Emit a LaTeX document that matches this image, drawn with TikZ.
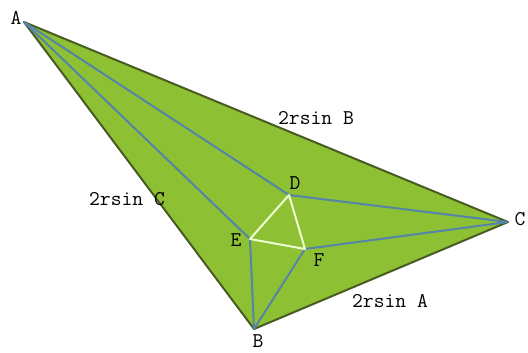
\documentclass[tikz,border=0pt]{standalone}
\usepackage{tikz}

\definecolor{leaf}{RGB}{142,192,52}
\definecolor{rim}{RGB}{72,92,34}
\definecolor{ray}{RGB}{84,132,168}
\definecolor{inner}{RGB}{236,255,208}

\tikzset{
	lbl/.style={font=\ttfamily\fontsize{21}{21}\selectfont, inner sep=0pt},
	trisector/.style={ray, line width=2pt},
	morley/.style={inner, line width=2pt}
}

\begin{document}
\begin{tikzpicture}[x=1pt, y=-1pt]
		
		\useasboundingbox (0,0) rectangle (528,353);
		
		% Vertices
		\coordinate (A) at (24,22);
		\coordinate (B) at (254,329);
		\coordinate (C) at (508,222);
		\coordinate (D) at (289,195);
		\coordinate (E) at (250,239);
		\coordinate (F) at (305,249);
		
		% Triangle
		\draw[rim, fill=leaf, line width=2pt, line join=round] (A) -- (B) -- (C) -- cycle;
		
		% Trisectors
		\draw[trisector] (A) -- (D) -- (C);
		\draw[trisector] (A) -- (E) -- (B);
		\draw[trisector] (B) -- (F) -- (C);
		
		% Inner triangle
		\draw[morley, line join=round] (D) -- (E) -- (F) -- cycle;
		
		% Labels
		\node[lbl] (lA) at (16,18) {A};
		\node[lbl] (lB) at (258,341) {B};
		\node[lbl] (lC) at (520,219) {C};
		\node[lbl] (lD) at (295,183) {D};
		\node[lbl] (lE) at (236,240) {E};
		\node[lbl] (lF) at (319,260) {F};
		
		\node[lbl] (sB) at (316,118) {2rsin B};
		\node[lbl] (sC) at (127,199) {2rsin C};
		\node[lbl] (sA) at (390,301) {2rsin A};
		
	\end{tikzpicture}
\end{document}
